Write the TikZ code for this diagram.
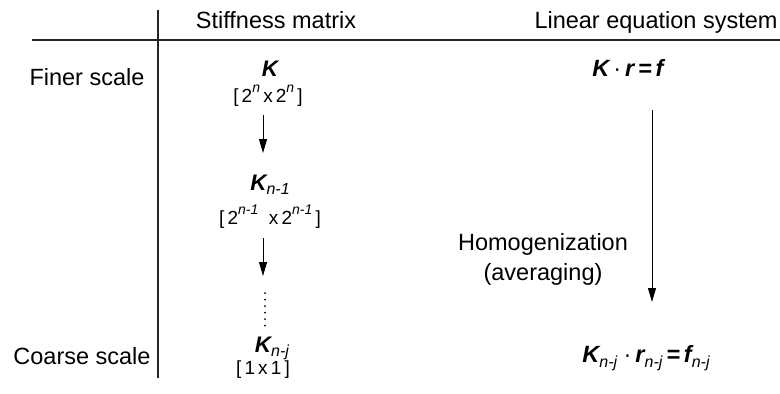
\documentclass[tikz,border=0pt]{standalone}
\usepackage{fontspec}
\setmainfont{Liberation Sans}
\usetikzlibrary{arrows.meta}
\newcommand\sbs[1]{\raisebox{-0.22em}{\fontsize{16}{16}\selectfont\mdseries\itshape #1}}
\newcommand\sps[1]{\raisebox{0.5em}{\fontsize{14}{14}\selectfont\itshape #1}}
\begin{document}
\begin{tikzpicture}[x=1pt,y=-1pt,
  lbl/.style={anchor=base,inner sep=0pt,font=\fontsize{23.5}{28}\selectfont},
  mat/.style={anchor=base,inner sep=0pt,font=\fontsize{22.5}{26}\selectfont\bfseries\itshape},
  eqn/.style={anchor=base,inner sep=0pt,font=\fontsize{23.5}{27}\selectfont\bfseries\itshape},
  dimtext/.style={anchor=base,inner sep=0pt,font=\fontsize{19}{22}\selectfont},
  rule/.style={line width=1.2pt,draw=black!85},
  arr/.style={line width=1pt,-{Triangle[length=14pt,width=8pt]}}]
\useasboundingbox[fill=white] (0,0) rectangle (780,394);
% frame lines
\coordinate (vtop) at (158,10);
\coordinate (vbot) at (158,378);
\coordinate (hl) at (32,40);
\coordinate (hr) at (780,40);
\draw[rule] (vtop) -- (vbot);
\draw[rule] (hl) -- (hr);
% headers
\node[lbl] (h1) at (276,28) {Stiffness matrix};
\node[lbl] (h2) at (656,28) {Linear equation system};
\node[lbl] (fine) at (87,85) {Finer scale};
\node[lbl] (coarse) at (82,364) {Coarse scale};
% stiffness column
\node[mat] (k0) at (270,76) {K};
\node[dimtext] (d0) at (268,102) {[\,2\sps{n}\,x\,2\sps{n}\,]};
\node[mat] (k1) at (270,190) {K\sbs{n-1}};
\node[dimtext] (d1) at (270,224) {[\,2\sps{n-1}\;\;x\,2\sps{n-1}\,]};
\node[mat] (k2) at (272,352) {K\sbs{n-j}};
\node[dimtext] (d2) at (263,374) {[\,1\,x\,1\,]};
\coordinate (a0s) at (263,115);
\coordinate (a0e) at (263,153);
\coordinate (a1s) at (263,238);
\coordinate (a1e) at (263,276);
\draw[arr] (a0s) -- (a0e);
\draw[arr] (a1s) -- (a1e);
\coordinate (dts) at (265,293);
\coordinate (dte) at (265,328);
\draw[line width=2pt,line cap=round,dash pattern=on 0pt off 6.5pt] (dts) -- (dte);
% equation column
\node[eqn] (e0) at (628,76) {K\,\mdseries\upshape·\,\bfseries\itshape r\,=\,f};
\node[eqn] (e1) at (646,362) {K\sbs{n-j}\;\mdseries\upshape·\,\bfseries\itshape r\sbs{n-j}\,=\,f\sbs{n-j}};
\node[lbl] (hom) at (543,250) {Homogenization};
\node[lbl] (avg) at (543,280) {(averaging)};
\coordinate (bs) at (652,110);
\coordinate (be) at (652,302);
\draw[arr] (bs) -- (be);
\end{tikzpicture}
\end{document}
